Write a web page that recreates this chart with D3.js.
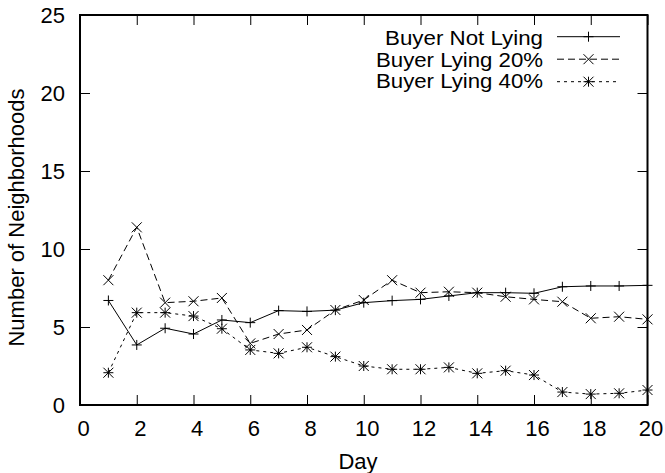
<!DOCTYPE html>
<html>
<head>
<meta charset="utf-8">
<script src="https://cdn.jsdelivr.net/npm/d3@7"></script>
<style>
  body { margin: 0; background: #fff; }
  text { font-family: "Liberation Sans", Arial, sans-serif; fill: #000; }
</style>
</head>
<body>
<svg id="chart"></svg>
<script>
// data
const days = [1,2,3,4,5,6,7,8,9,10,11,12,13,14,15,16,17,18,19,20];
const notLying = [6.7,3.85,4.92,4.55,5.45,5.28,6.05,6.0,6.08,6.56,6.69,6.77,6.99,7.2,7.2,7.16,7.58,7.63,7.63,7.67];
const lying20 = [8.0,11.39,6.56,6.65,6.86,3.95,4.55,4.81,6.09,6.73,8.0,7.2,7.26,7.2,6.94,6.77,6.62,5.56,5.66,5.49];
const lying40 = [2.07,5.92,5.92,5.7,4.89,3.53,3.31,3.7,3.1,2.5,2.29,2.29,2.41,2.03,2.2,1.92,0.83,0.7,0.75,0.96];
const seriesNames = ["Buyer Not Lying", "Buyer Lying 20%", "Buyer Lying 40%"];
const xTicks = [0,2,4,6,8,10,12,14,16,18,20];
const yTicks = [0,5,10,15,20,25];

const W = 665, H = 473;
const margin = {top: 15, right: 17.5, bottom: 68, left: 80};
const width = W - margin.left - margin.right,
      height = H - margin.top - margin.bottom;

const svg = d3.select("#chart").attr("width", W).attr("height", H);
const g = svg.append("g").attr("transform", "translate(" + margin.left + "," + margin.top + ")");

//Échelles
const x = d3.scaleLinear().domain([0, 20]).range([0, width]);
const y = d3.scaleLinear().domain([0, 25]).range([height, 0]);

const fontSize = 22;

// ticks (inward, mirrored like gnuplot)
g.append("g").attr("class", "xaxis").attr("transform", "translate(0," + height + ")")
  .call(d3.axisBottom(x).tickValues(xTicks).tickSize(-10).tickPadding(15))
  .call(a => a.select(".domain").remove());
g.selectAll(".xaxis .tick text").attr("dx", 3);
g.append("g").call(d3.axisTop(x).tickValues(xTicks).tickSize(-10).tickFormat(""))
  .call(a => a.select(".domain").remove());
g.append("g").call(d3.axisLeft(y).tickValues(yTicks).tickSize(-10).tickPadding(15))
  .call(a => a.select(".domain").remove());
g.append("g").attr("transform", "translate(" + width + ",0)")
  .call(d3.axisRight(y).tickValues(yTicks).tickSize(-10).tickFormat(""))
  .call(a => a.select(".domain").remove());

g.selectAll(".tick line").attr("stroke", "#000").attr("stroke-width", 1);
g.selectAll(".tick text").attr("font-size", fontSize)
  .attr("font-family", "'Liberation Sans', Arial, sans-serif").attr("fill", "#000");

// border
g.append("rect").attr("width", width).attr("height", height)
  .attr("fill", "none").attr("stroke", "#000").attr("stroke-width", 2);

// axis titles
svg.append("text").attr("x", 358).attr("y", 469)
  .attr("text-anchor", "middle").attr("font-size", fontSize).text("Day");
svg.append("text")
  .attr("transform", "translate(24,217.5) rotate(-90)")
  .attr("text-anchor", "middle").attr("font-size", 22).text("Number of Neighborhoods");

// markers
const s = 5;
function plus(sel) {
  sel.append("path").attr("d", `M${-s},0H${s}M0,${-s}V${s}`);
}
function cross(sel) {
  sel.append("path").attr("d", `M${-s},${-s}L${s},${s}M${-s},${s}L${s},${-s}`);
}
function star(sel) { plus(sel); cross(sel); }

const series = [
  {name: seriesNames[0], values: notLying, dash: null, marker: plus, tl: 158},
  {name: seriesNames[1], values: lying20, dash: "7,4", marker: cross, tl: 167},
  {name: seriesNames[2], values: lying40, dash: "3,4", marker: star, tl: 167}
];

const line = d3.line().x((d, i) => x(days[i])).y(d => y(d));

series.forEach(sr => {
  g.append("path").datum(sr.values)
    .attr("d", line).attr("fill", "none").attr("stroke", "#000").attr("stroke-width", 1)
    .attr("stroke-dasharray", sr.dash);
  g.selectAll(null).data(sr.values).enter().append("g")
    .attr("transform", (d, i) => "translate(" + x(days[i]) + "," + y(d) + ")")
    .attr("stroke", "#000").attr("stroke-width", 1).attr("fill", "none")
    .each(function() { sr.marker(d3.select(this)); });
});

// legend
const legend = svg.append("g");
series.forEach((sr, i) => {
  const ly = 36.7 + i * 22.5;
  legend.append("text").attr("x", 543).attr("y", 45 + i * 21.7)
    .attr("text-anchor", "end").attr("font-size", 19.5)
    .attr("textLength", sr.tl).attr("lengthAdjust", "spacingAndGlyphs").text(sr.name);
  legend.append("line").attr("x1", 557).attr("x2", 620).attr("y1", ly).attr("y2", ly)
    .attr("stroke", "#000").attr("stroke-width", 1).attr("stroke-dasharray", sr.dash);
  const m = legend.append("g").attr("transform", "translate(588.5," + ly + ")")
    .attr("stroke", "#000").attr("stroke-width", 1).attr("fill", "none");
  sr.marker(m);
});
</script>
</body>
</html>
